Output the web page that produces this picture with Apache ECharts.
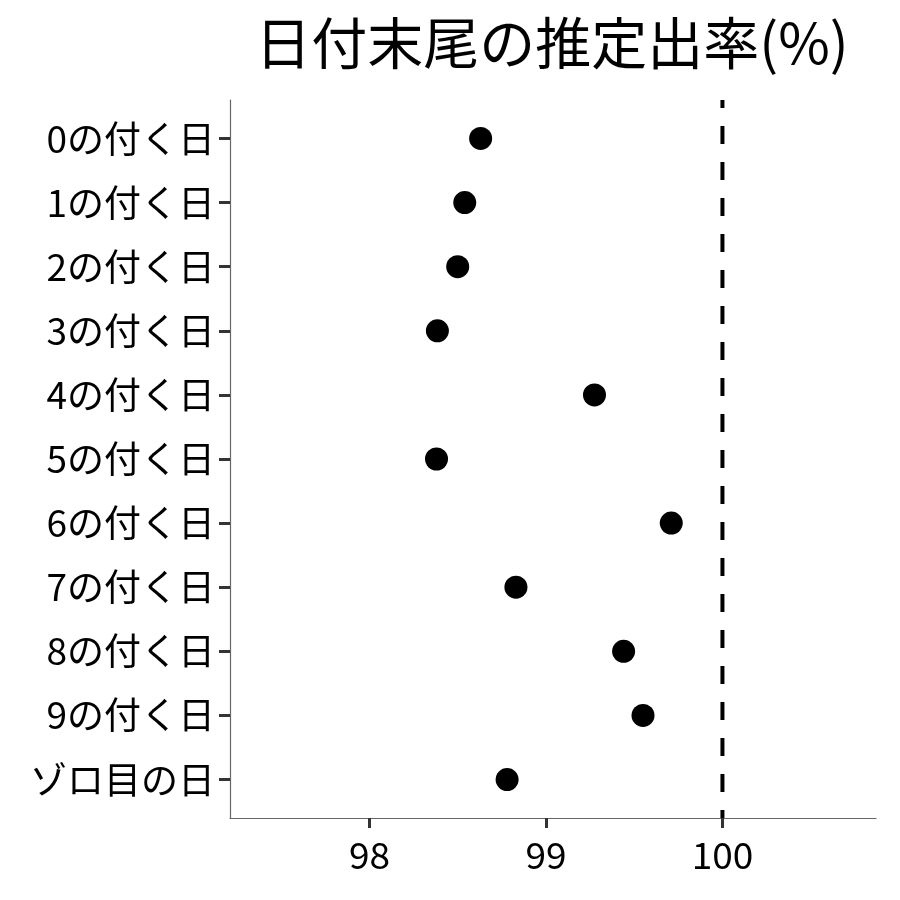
<!DOCTYPE html>
<html>
<head>
<meta charset="utf-8">
<script src="https://cdn.jsdelivr.net/npm/echarts@6/dist/echarts.min.js"></script>
<style>html,body{margin:0;padding:0;background:#fff}#c{width:900px;height:900px}</style>
</head>
<body>
<div id="c"></div>
<script>
const categories = ['0の付く日','1の付く日','2の付く日','3の付く日','4の付く日','5の付く日','6の付く日','7の付く日','8の付く日','9の付く日','ゾロ目の日'];
const rates = [98.63, 98.54, 98.50, 98.385, 99.275, 98.38, 99.71, 98.83, 99.44, 99.55, 98.78];
const xTicks = [98, 99, 100];
const refValue = 100;
const titleText = '日付末尾の推定出率(%)';

const FONT = '"Noto Sans CJK JP", "Noto Sans", sans-serif';
const chart = echarts.init(document.getElementById('c'));
const yIdx = categories.map((_, i) => i);
chart.setOption({
  animation: false,
  backgroundColor: '#fff',
  title: {
    text: titleText,
    left: 547, top: 10, textAlign: 'center',
    textStyle: { fontFamily: FONT, fontSize: 56, fontWeight: 'normal', color: '#000' }
  },
  grid: { left: 230, right: 24, top: 100, bottom: 82 },
  xAxis: {
    type: 'value', min: 97.21, max: 100.87,
    splitLine: { show: false },
    axisLine: { show: true, onZero: false, lineStyle: { color: '#666', width: 1.2 } },
    axisTick: { show: true, customValues: xTicks, length: 10, lineStyle: { color: '#333', width: 3 } },
    axisLabel: { customValues: xTicks, margin: 18, fontFamily: FONT, fontSize: 37, color: '#000' }
  },
  yAxis: {
    type: 'value', inverse: true, min: -0.6, max: 10.6,
    splitLine: { show: false },
    axisLine: { show: true, onZero: false, lineStyle: { color: '#666', width: 1.2 } },
    axisTick: { show: true, customValues: yIdx, length: 11, lineStyle: { color: '#333', width: 3 } },
    axisLabel: { customValues: yIdx, margin: 15, fontFamily: FONT, fontSize: 37, color: '#000',
      formatter: v => categories[Math.round(v)] }
  },
  series: [
    {
      type: 'line',
      data: [[refValue, -0.6], [refValue, 10.6]],
      symbol: 'none',
      lineStyle: { color: '#000', width: 4, type: [18, 18], dashOffset: 10 },
      z: 1
    },
    {
      type: 'scatter',
      data: rates.map((v, i) => [v, i]),
      symbolSize: 23,
      itemStyle: { color: '#000', opacity: 1 },
      z: 3
    }
  ]
});
</script>
</body>
</html>
